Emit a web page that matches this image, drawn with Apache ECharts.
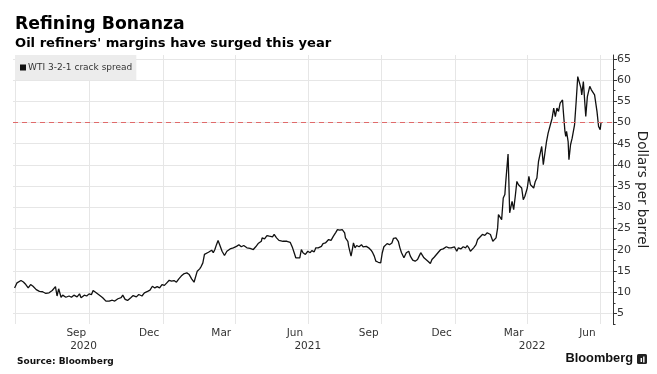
<!DOCTYPE html>
<html><head><meta charset="utf-8">
<script src="https://cdn.jsdelivr.net/npm/echarts@6/dist/echarts.min.js"></script>
<style>html,body{margin:0;padding:0;background:#fff}#c{width:657px;height:374px}</style>
</head><body><div id="c"></div>
<script>
const dates = [
'2020-06-30','2020-07-03','2020-07-08','2020-07-11','2020-07-14','2020-07-17','2020-07-20','2020-07-23','2020-07-27','2020-07-31',
'2020-08-04','2020-08-08','2020-08-12','2020-08-16','2020-08-20','2020-08-22','2020-08-24','2020-08-27','2020-08-29','2020-09-02',
'2020-09-06','2020-09-09','2020-09-12','2020-09-16','2020-09-19','2020-09-21','2020-09-25','2020-09-28','2020-10-01','2020-10-04',
'2020-10-06','2020-10-09','2020-10-14','2020-10-18','2020-10-22','2020-10-26','2020-10-30','2020-11-02','2020-11-06','2020-11-10',
'2020-11-12','2020-11-15','2020-11-18','2020-11-22','2020-11-25','2020-11-29','2020-12-02','2020-12-06','2020-12-09','2020-12-13',
'2020-12-16','2020-12-19','2020-12-22','2020-12-25','2020-12-28','2020-12-31','2021-01-03','2021-01-06','2021-01-09','2021-01-12',
'2021-01-15','2021-01-18','2021-01-21','2021-01-24','2021-01-27','2021-01-31','2021-02-03','2021-02-06','2021-02-09','2021-02-11',
'2021-02-13','2021-02-16','2021-02-18','2021-02-20','2021-02-22','2021-02-24','2021-02-27','2021-03-01','2021-03-03','2021-03-05',
'2021-03-07','2021-03-09','2021-03-11','2021-03-13','2021-03-16','2021-03-19','2021-03-22','2021-03-26','2021-03-30','2021-04-03',
'2021-04-06','2021-04-09','2021-04-12','2021-04-16','2021-04-20','2021-04-24','2021-04-27','2021-04-30','2021-05-04','2021-05-05',
'2021-05-08','2021-05-11','2021-05-14','2021-05-16','2021-05-18','2021-05-20','2021-05-23','2021-05-26','2021-05-28','2021-05-31',
'2021-06-05','2021-06-09','2021-06-12','2021-06-14','2021-06-16','2021-06-18','2021-06-21','2021-06-23','2021-06-25','2021-06-28',
'2021-07-01','2021-07-04','2021-07-06','2021-07-09','2021-07-11','2021-07-14','2021-07-18','2021-07-20','2021-07-23','2021-07-27',
'2021-07-30','2021-08-02','2021-08-05','2021-08-07','2021-08-10','2021-08-13','2021-08-16','2021-08-17','2021-08-20','2021-08-21',
'2021-08-24','2021-08-26','2021-08-27','2021-08-29','2021-08-31','2021-09-03','2021-09-06','2021-09-08','2021-09-12','2021-09-15',
'2021-09-18','2021-09-20','2021-09-22','2021-09-24','2021-09-27','2021-09-30','2021-10-02','2021-10-04','2021-10-08','2021-10-11',
'2021-10-14','2021-10-16','2021-10-19','2021-10-22','2021-10-24','2021-10-26','2021-10-29','2021-11-01','2021-11-04','2021-11-06',
'2021-11-09','2021-11-12','2021-11-15','2021-11-17','2021-11-19','2021-11-21','2021-11-23','2021-11-25','2021-11-28','2021-12-01',
'2021-12-03','2021-12-06','2021-12-08','2021-12-11','2021-12-14','2021-12-17','2021-12-21','2021-12-24','2021-12-27','2021-12-29',
'2021-12-31','2022-01-03','2022-01-05','2022-01-08','2022-01-11','2022-01-14','2022-01-16','2022-01-18','2022-01-20','2022-01-24',
'2022-01-27','2022-01-29','2022-01-31','2022-02-04','2022-02-07','2022-02-10','2022-02-14','2022-02-17','2022-02-19','2022-02-21',
'2022-02-23','2022-02-24','2022-02-26','2022-02-28','2022-03-02','2022-03-04','2022-03-05','2022-03-07','2022-03-08','2022-03-09',
'2022-03-10','2022-03-13','2022-03-15','2022-03-17','2022-03-19','2022-03-21','2022-03-23','2022-03-25','2022-03-27','2022-03-29',
'2022-04-01','2022-04-03','2022-04-05','2022-04-07','2022-04-09','2022-04-11','2022-04-13','2022-04-15','2022-04-17','2022-04-19',
'2022-04-21','2022-04-23','2022-04-25','2022-04-27','2022-04-29','2022-05-02','2022-05-04','2022-05-06','2022-05-08','2022-05-10',
'2022-05-12','2022-05-14','2022-05-15','2022-05-16','2022-05-18','2022-05-19','2022-05-20','2022-05-22','2022-05-23','2022-05-25',
'2022-05-27','2022-05-30','2022-06-01','2022-06-03','2022-06-05','2022-06-07','2022-06-08','2022-06-10','2022-06-12','2022-06-13',
'2022-06-15','2022-06-17','2022-06-18','2022-06-20','2022-06-22','2022-06-24','2022-06-27','2022-06-29','2022-07-01','2022-07-02'
];
const crack = [
11.0,12.2,12.75,12.4,11.8,11.0,11.8,11.4,10.6,10.2,
10.1,9.7,9.85,10.4,11.3,9.1,10.8,8.8,9.3,8.8,
9.1,8.8,9.3,8.9,9.6,8.7,9.3,9.1,9.6,9.45,
10.4,10.0,9.3,8.7,7.9,7.9,8.1,7.9,8.45,8.7,
9.3,8.3,8.05,8.7,9.2,8.9,9.45,9.1,9.85,10.2,
10.5,11.4,11.0,11.3,11.0,11.8,11.6,12.2,12.8,12.6,
12.75,12.35,13.15,13.8,14.3,14.55,14.15,13.15,12.35,12.6,
14.95,15.5,16.1,16.9,18.9,18.9,19.4,19.3,19.9,19.3,
20.05,21.2,22.2,21.2,19.65,18.65,19.65,20.2,20.45,20.8,
21.2,20.7,21.0,20.45,20.3,20.05,20.7,21.45,22.0,22.8,
22.55,23.35,23.2,23.6,23.05,23.6,22.8,22.2,22.55,22.0,
22.0,21.75,20.45,19.3,18.1,17.7,18.1,20.05,19.3,18.9,
19.65,19.3,19.8,19.5,20.45,20.45,20.8,21.45,21.6,22.4,
22.2,23.2,24.1,24.75,24.6,24.75,24.0,22.8,22.0,20.8,
18.5,20.45,21.6,20.45,21.0,20.7,21.2,20.7,20.8,20.45,
19.9,19.3,18.5,17.3,17.05,16.9,19.3,20.7,21.45,21.2,
21.6,22.7,22.8,22.0,20.45,19.3,18.1,19.3,19.65,18.5,
17.55,17.3,17.7,18.5,19.3,18.9,18.1,18.5,17.3,16.75,
17.7,18.3,18.1,19.4,20.05,20.2,20.7,20.45,20.45,20.05,
20.7,19.65,20.45,20.2,20.7,20.45,21.0,20.45,19.65,20.45,
21.2,22.4,22.2,23.6,23.4,24.0,23.6,22.0,21.6,22.8,
25.15,28.3,27.9,27.1,32.2,33.0,35.7,36.1,42.55,36.1,
28.7,31.4,29.45,32.6,36.1,35.3,35.7,34.55,31.8,32.6,
34.55,37.3,35.3,35.7,34.55,36.1,36.9,40.8,41.2,44.35,
40.05,42.8,45.5,47.5,47.9,51.0,53.4,51.4,53.4,52.6,
54.55,54.15,55.3,52.6,47.9,46.7,47.9,45.5,41.2,44.75,
46.3,49.45,54.9,60.8,60.6,58.1,56.5,59.65,54.15,51.4,
56.1,56.5,58.5,57.7,58.1,56.5,52.6,49.05,48.3,49.9
];
const yTicks = [5,10,15,20,25,30,35,40,45,50,55,60,65];
const yMinorTicks = [2.5,7.5,12.5,17.5,22.5,27.5,32.5,37.5,42.5,47.5,52.5,57.5,62.5];
const quarterStarts = ['2020-07-01','2020-10-01','2021-01-01','2021-04-01','2021-07-01','2021-10-01','2022-01-01','2022-04-01','2022-07-01'];
const monthLabelDates = ['2020-09-15','2020-12-15','2021-03-15','2021-06-15','2021-09-15','2021-12-15','2022-03-15','2022-06-15'];
const monthLabels = ['Sep','Dec','Mar','Jun','Sep','Dec','Mar','Jun'];
const yearLabelDates = ['2020-09-24','2021-07-01','2022-04-07'];
const yearLabels = ['2020','2021','2022'];
const xRange = ['2020-06-28','2022-07-17'];
const threshold = 50;
const seriesName = 'WTI 3-2-1 crack spread';

const toTs = s => +new Date(s + 'T00:00:00');
function nearestLabel(value, ds, labels) {
  let best = 0, bd = Infinity;
  ds.forEach((d, i) => { const dd = Math.abs(toTs(d) - value); if (dd < bd) { bd = dd; best = i; } });
  return labels[best];
}
const FONT = '"DejaVu Sans", Verdana, sans-serif';
const chart = echarts.init(document.getElementById('c'), null, {renderer: 'canvas'});
chart.setOption({
  animation: false,
  backgroundColor: '#fff',
  title: [
    {text: 'Refining Bonanza', left: 15, top: 16, padding: 0, textStyle: {fontFamily: FONT, fontWeight: 'bold', fontSize: 17.3, color: '#000'}},
    {text: "Oil refiners' margins have surged this year", left: 15, top: 37, padding: 0, textStyle: {fontFamily: FONT, fontWeight: 'bold', fontSize: 13.1, color: '#000'}},
    {text: 'Source: Bloomberg', left: 17, top: 357, padding: 0, textStyle: {fontFamily: FONT, fontWeight: 'bold', fontSize: 9, color: '#111'}}
  ],
  graphic: [
    {type: 'text', right: 24, top: 352, style: {text: 'Bloomberg', font: 'bold 12.8px "Liberation Sans", Arial, sans-serif', fill: '#111'}},
    {type: 'rect', right: 10, top: 354, shape: {width: 10, height: 10, r: 1.5}, style: {fill: '#222'}},
    {type: 'rect', right: 15, top: 358, shape: {width: 1.4, height: 4}, style: {fill: '#fff'}},
    {type: 'rect', right: 12.5, top: 356.5, shape: {width: 1.4, height: 6}, style: {fill: '#fff'}}
  ],
  legend: {
    left: 15, top: 55, padding: [8, 4, 8, 5],
    backgroundColor: '#ececec', borderRadius: 0,
    icon: 'rect', itemWidth: 6, itemHeight: 6, itemGap: 4,
    textStyle: {fontFamily: FONT, fontSize: 9, color: '#333', padding: [0, 0, 0, -3]},
    data: [seriesName]
  },
  grid: {left: 13, right: 44, top: 55, bottom: 50, containLabel: false, outerBoundsMode: 'none'},
  xAxis: [
    {
      type: 'value', min: toTs(xRange[0]), max: toTs(xRange[1]),
      axisLine: {show: false}, axisTick: {show: false, customValues: quarterStarts.map(toTs)},
      splitLine: {show: true, lineStyle: {color: '#e6e6e6', width: 1}},
      axisLabel: {customValues: monthLabelDates.map(toTs), margin: 4, fontFamily: FONT, fontSize: 10.5, color: '#333',
        formatter: v => nearestLabel(v, monthLabelDates, monthLabels)}
    },
    {
      type: 'value', min: toTs(xRange[0]), max: toTs(xRange[1]), position: 'bottom',
      axisLine: {show: false}, axisTick: {show: false}, splitLine: {show: false},
      axisLabel: {customValues: yearLabelDates.map(toTs), margin: 17, fontFamily: FONT, fontSize: 10.5, color: '#333',
        formatter: v => nearestLabel(v, yearLabelDates, yearLabels)}
    }
  ],
  yAxis: [
    {
      type: 'value', position: 'right', min: 2.5, max: 65.9,
      axisLine: {show: true, lineStyle: {color: '#333', width: 1}},
      axisTick: {show: true, inside: false, length: 4, customValues: yTicks, lineStyle: {color: '#333'}},
      splitLine: {show: true, lineStyle: {color: '#e6e6e6', width: 1}},
      axisLabel: {customValues: yTicks, margin: 4, fontFamily: FONT, fontSize: 11, color: '#333'},
      name: 'Dollars per barrel', nameLocation: 'middle', nameRotate: -90, nameGap: 21, nameMoveOverlap: false,
      nameTextStyle: {fontFamily: FONT, fontSize: 13.5, color: '#222'}
    },
    {
      type: 'value', position: 'right', min: 2.5, max: 65.9,
      axisLine: {show: false},
      axisTick: {show: true, length: 2.5, customValues: yMinorTicks, lineStyle: {color: '#333'}},
      splitLine: {show: false}, axisLabel: {show: false}
    }
  ],
  series: [{
    name: seriesName, type: 'line', xAxisIndex: 0, yAxisIndex: 0,
    data: dates.map((d, i) => [toTs(d), crack[i]]),
    showSymbol: false, symbol: 'none',
    lineStyle: {color: '#111', width: 1.3}, itemStyle: {color: '#111'},
    markLine: {
      silent: true, symbol: ['none', 'none'], label: {show: false},
      lineStyle: {color: '#e06a6a', type: [5, 4], width: 1.2},
      data: [{yAxis: threshold}]
    }
  }]
});
</script></body></html>
